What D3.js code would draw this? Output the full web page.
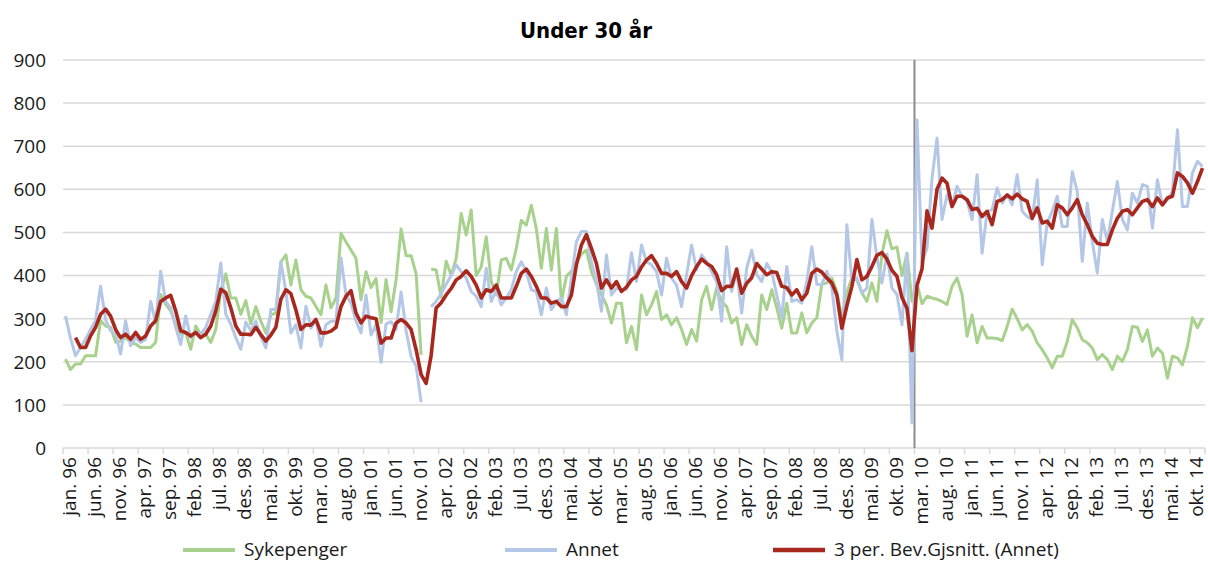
<!DOCTYPE html>
<html>
<head>
<meta charset="utf-8">
<script src="https://cdn.jsdelivr.net/npm/d3@7"></script>
<style>
  body { margin: 0; background: #fff; }
  svg text { font-family: "Open Sans", "Noto Sans", sans-serif; fill: #1a1a1a; }
</style>
</head>
<body>
<svg id="chart" width="1208" height="563"></svg>
<script>
// month categories, jan. 96 .. des. 14
const monthNames = ["jan.", "feb.", "mar.", "apr.", "mai.", "jun.", "jul.", "aug.", "sep.", "okt.", "nov.", "des."];
const years = ["96", "97", "98", "99", "00", "01", "02", "03", "04", "05", "06", "07", "08", "09", "10", "11", "12", "13", "14"];

const tickLabels = [
  "jan. 96", "jun. 96", "nov. 96", "apr. 97", "sep. 97", "feb. 98", "jul. 98", "des. 98",
  "mai. 99", "okt. 99", "mar. 00", "aug. 00", "jan. 01", "jun. 01", "nov. 01", "apr. 02",
  "sep. 02", "feb. 03", "jul. 03", "des. 03", "mai. 04", "okt. 04", "mar. 05", "aug. 05",
  "jan. 06", "jun. 06", "nov. 06", "apr. 07", "sep. 07", "feb. 08", "jul. 08", "des. 08",
  "mai. 09", "okt. 09", "mar. 10", "aug. 10", "jan. 11", "jun. 11", "nov. 11", "apr. 12",
  "sep. 12", "feb. 13", "jul. 13", "des. 13", "mai. 14", "okt. 14"
];
const yTicks = [0, 100, 200, 300, 400, 500, 600, 700, 800, 900];
const markerMonth = "mar. 10";

// one row per year
const sykepenger = [
  206, 182, 195, 195, 214, 214, 214, 295, 283, 280, 245, 248,
  256, 245, 241, 233, 233, 233, 245, 356, 333, 318, 287, 264,
  268, 229, 283, 264, 264, 245, 275, 364, 404, 348, 348, 310,
  342, 288, 328, 294, 267, 309, 313, 432, 448, 378, 436, 367,
  352, 348, 328, 309, 378, 325, 348, 498, 478, 459, 440, 344,
  409, 372, 393, 291, 391, 316, 390, 508, 446, 446, 404, 216,
  null, 415, 413, 350, 433, 401, 440, 544, 494, 552, 400, 420,
  490, 386, 355, 436, 440, 413, 463, 528, 517, 563, 509, 417,
  509, 413, 509, 340, 398, 410, 430, 450, 459, 409, 380, 355,
  332, 290, 336, 336, 244, 282, 228, 355, 309, 332, 363, 298,
  309, 286, 302, 275, 240, 275, 248, 344, 375, 321, 371, 340,
  328, 290, 302, 240, 286, 259, 240, 355, 321, 367, 325, 278,
  336, 267, 267, 313, 267, 290, 302, 380, 383, 394, 363, 302,
  360, 395, 390, 360, 340, 383, 340, 450, 504, 462, 466, 400,
  452, 340, 380, 335, 352, 348, 345, 340, 333, 375, 394, 356,
  259, 309, 244, 282, 255, 255, 254, 249, 282, 322, 300, 274,
  286, 271, 244, 228, 209, 186, 213, 213, 247, 298, 279, 251,
  244, 232, 205, 217, 205, 182, 213, 201, 228, 282, 280, 247,
  274, 213, 232, 220, 162, 213, 209, 193, 236, 302, 279, 302
];

const annet = [
  306, 255, 214, 233, 252, 275, 296, 375, 298, 272, 264, 218,
  295, 237, 256, 245, 252, 340, 290, 410, 340, 325, 280, 240,
  306, 256, 268, 264, 280, 310, 340, 429, 310, 287, 256, 229,
  292, 272, 294, 259, 232, 321, 321, 432, 363, 267, 286, 232,
  329, 278, 298, 236, 286, 294, 294, 440, 355, 336, 294, 267,
  355, 262, 286, 199, 288, 293, 275, 362, 272, 212, 190, 106,
  null, 328, 340, 358, 380, 400, 425, 409, 394, 363, 352, 328,
  417, 340, 367, 332, 348, 367, 409, 432, 409, 367, 363, 309,
  371, 321, 340, 348, 309, 394, 478, 502, 502, 432, 386, 317,
  448, 355, 371, 367, 368, 453, 386, 471, 432, 425, 409, 355,
  440, 394, 378, 328, 402, 471, 413, 448, 432, 409, 386, 294,
  467, 363, 409, 313, 417, 459, 402, 386, 428, 409, 355, 302,
  421, 340, 344, 336, 386, 467, 380, 379, 410, 371, 271, 205,
  518, 387, 394, 360, 371, 530, 441, 383, 450, 371, 356, 286,
  452, 58, 761, 430, 464, 626, 719, 530, 587, 560, 607, 584,
  572, 530, 634, 452, 549, 553, 603, 568, 587, 564, 634, 549,
  537, 530, 622, 425, 522, 549, 584, 514, 514, 641, 595, 433,
  568, 479, 406, 530, 479, 549, 618, 530, 506, 591, 568, 611,
  607, 510, 622, 564, 576, 595, 738, 560, 560, 638, 665, 653
];

const annetGjsnitt = [
  null, null, 256, 233, 233, 260, 280, 310, 322, 306, 275, 256,
  264, 252, 268, 252, 260, 283, 295, 340, 348, 354, 318, 272,
  268, 260, 268, 256, 264, 283, 318, 368, 360, 325, 283, 264,
  264, 263, 280, 263, 248, 262, 280, 345, 367, 358, 320, 275,
  286, 285, 298, 267, 267, 271, 280, 328, 352, 365, 313, 290,
  306, 302, 300, 243, 255, 255, 290, 298, 290, 275, 228, 170,
  150, 215, 325, 337, 355, 370, 390, 398, 411, 398, 378, 348,
  367, 363, 378, 348, 348, 348, 375, 405, 415, 398, 375, 348,
  348, 336, 340, 328, 328, 355, 425, 471, 495, 463, 428, 371,
  390, 371, 386, 363, 373, 390, 398, 420, 436, 446, 428, 405,
  405, 398, 409, 386, 371, 400, 421, 438, 428, 421, 402, 365,
  375, 375, 415, 359, 382, 395, 428, 415, 402, 409, 407, 375,
  372, 355, 367, 344, 359, 405, 415, 408, 394, 383, 355, 278,
  330, 375, 437, 390, 398, 421, 447, 453, 438, 412, 398, 349,
  324, 226, 377, 415, 550, 510, 600, 626, 614, 560, 584, 584,
  576, 553, 556, 537, 549, 518, 572, 576, 587, 578, 589, 578,
  572, 533, 557, 522, 526, 510, 564, 557, 541, 557, 576, 541,
  518, 491, 475, 472, 472, 506, 533, 549, 553, 541, 557, 572,
  576, 560, 580, 564, 580, 584, 638, 630, 615, 591, 618, 649
];

const categories = [];
years.forEach(y => monthNames.forEach(m => categories.push(m + " " + y)));

const series = [
  { name: "Sykepenger", values: sykepenger, color: "#a9d18e", width: 3 },
  { name: "Annet", values: annet, color: "#b4c7e7", width: 3 },
  { name: "3 per. Bev.Gjsnitt. (Annet)", values: annetGjsnitt, color: "#a8281d", width: 3.6 }
];

const svg = d3.select("#chart");
const plot = { left: 63, right: 1205, top: 60, bottom: 448 };

const x = d3.scaleBand().domain(categories).range([plot.left, plot.right]).padding(0);
const y = d3.scaleLinear().domain([0, 900]).range([plot.bottom, plot.top]);
const cx = c => x(c) + x.bandwidth() / 2;

svg.append("rect").attr("width", 1208).attr("height", 563).attr("fill", "#fff");

// title
svg.append("text")
  .attr("x", 586)
  .attr("y", 38)
  .attr("text-anchor", "middle")
  .style("font-family", "'DejaVu Sans', sans-serif")
  .style("font-stretch", "condensed")
  .style("font-weight", "bold")
  .style("font-size", "22px")
  .style("fill", "#000")
  .text("Under 30 år");

// gridlines
svg.append("g")
  .selectAll("line")
  .data(yTicks)
  .enter()
  .append("line")
  .attr("x1", plot.left)
  .attr("x2", plot.right)
  .attr("y1", d => y(d))
  .attr("y2", d => y(d))
  .attr("stroke", "#d9d9d9")
  .attr("stroke-width", 1.5);

// y labels
svg.append("g")
  .selectAll("text")
  .data(yTicks)
  .enter()
  .append("text")
  .attr("x", 46)
  .attr("y", d => y(d))
  .attr("dy", "0.36em")
  .attr("text-anchor", "end")
  .style("font-size", "19px")
  .text(d => d);

// x ticks + labels
const xAxis = svg.append("g");
xAxis.selectAll("line")
  .data(tickLabels.concat([null]))
  .enter()
  .append("line")
  .attr("x1", d => (d ? x(d) : plot.right))
  .attr("x2", d => (d ? x(d) : plot.right))
  .attr("y1", plot.bottom)
  .attr("y2", plot.bottom + 6)
  .attr("stroke", "#d9d9d9")
  .attr("stroke-width", 1.5);

xAxis.selectAll("text")
  .data(tickLabels)
  .enter()
  .append("text")
  .attr("transform", d => `translate(${cx(d) + 4},${plot.bottom + 9}) rotate(-90)`)
  .attr("dy", "0.35em")
  .attr("text-anchor", "end")
  .style("font-size", "19px")
  .text(d => d);

// marker line between feb. 10 and mar. 10
svg.append("line")
  .attr("x1", x(markerMonth))
  .attr("x2", x(markerMonth))
  .attr("y1", y(900))
  .attr("y2", y(0))
  .attr("stroke", "#8c8c8c")
  .attr("stroke-width", 2);

const line = d3.line()
  .defined(d => d != null)
  .x((d, i) => cx(categories[i]))
  .y(d => y(d));

svg.append("g")
  .selectAll("path")
  .data(series)
  .enter()
  .append("path")
  .attr("d", d => line(d.values))
  .attr("fill", "none")
  .attr("stroke", d => d.color)
  .attr("stroke-width", d => d.width)
  .attr("stroke-linejoin", "round");

// legend
const legendX = [183, 505, 773];
const legend = svg.append("g")
  .selectAll("g")
  .data(series)
  .enter()
  .append("g")
  .attr("transform", (d, i) => `translate(${legendX[i]},550)`);

legend.append("line")
  .attr("x1", 0)
  .attr("x2", 52)
  .attr("stroke", d => d.color)
  .attr("stroke-width", d => d.width + 1);

legend.append("text")
  .attr("x", 61)
  .attr("y", 6)
  .style("font-size", "19px")
  .text(d => d.name);
</script>
</body>
</html>
